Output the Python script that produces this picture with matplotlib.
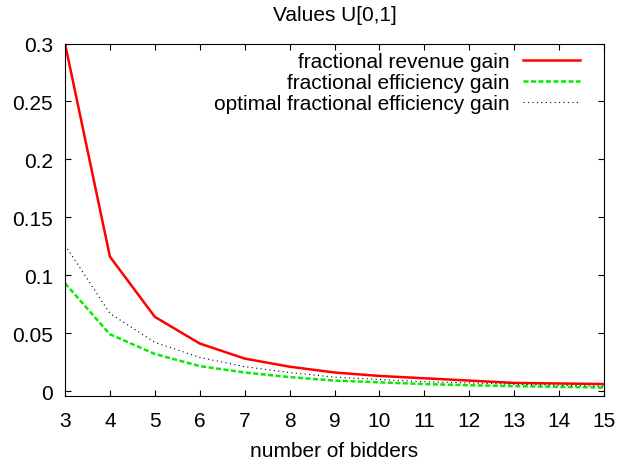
import numpy as np
import matplotlib
matplotlib.use('Agg')
import matplotlib.pyplot as plt

plt.rcParams['font.family'] = ['Liberation Sans', 'DejaVu Sans']

#%% data

bidders = [3, 4, 5, 6, 7, 8, 9, 10, 11, 12, 13, 14, 15]
revenue_gain = [0.300, 0.116, 0.064, 0.041, 0.028, 0.021, 0.016, 0.013, 0.011, 0.009, 0.007, 0.0065, 0.006]
efficiency_gain = [0.093, 0.049, 0.032, 0.0215, 0.016, 0.012, 0.009, 0.0075, 0.006, 0.005, 0.0042, 0.0036, 0.003]
opt_efficiency_gain = [0.126, 0.067, 0.042, 0.029, 0.021, 0.016, 0.012, 0.010, 0.008, 0.007, 0.0058, 0.005, 0.0042]

xticks = list(range(3, 16))
yticks = [0, 0.05, 0.1, 0.15, 0.2, 0.25, 0.3]
ytick_labels = ['0', '0.05', '0.1', '0.15', '0.2', '0.25', '0.3']

#%% plot

W, H = 619, 464
fig = plt.figure(figsize=(W / 100, H / 100), dpi=100)
# axes box in pixels: left 65, right 604, top 44.5, bottom 397
ax = fig.add_axes([65 / W, (H - 397) / H, (604 - 65) / W, (397 - 44.5) / H])

ax.plot(bidders, revenue_gain, color='#ff0000', lw=1.8, label='fractional revenue gain')
ax.plot(bidders, efficiency_gain, color='#00ee00', lw=1.8, ls=(0, (2, 1)), label='fractional efficiency gain')
ax.plot(bidders, opt_efficiency_gain, color='black', lw=0.8, ls=(0, (1, 3)), label='optimal fractional efficiency gain')

ax.set_xlim(3, 15)
ax.set_ylim(-0.0043, 0.3)
ax.set_xticks(xticks)
ax.set_yticks(yticks)
ax.set_yticklabels(ytick_labels)
ax.tick_params(direction='in', top=True, right=True, labelsize=15, length=4.5)
ax.tick_params(axis='y', pad=8.5)
ax.tick_params(axis='x', pad=11)
ax.set_xlabel('number of bidders', fontsize=15, labelpad=7.5)
ax.set_title('Values U[0,1]', fontsize=15, pad=17)

leg = ax.legend(loc='upper right', markerfirst=False, frameon=False, fontsize=15,
                handlelength=2.7, handletextpad=0.66, labelspacing=0.08,
                borderaxespad=0, borderpad=0,
                bbox_to_anchor=(1 - 24.5 / 539, 1 - 9 / 352.5))

plt.savefig('out.png', dpi=100)
